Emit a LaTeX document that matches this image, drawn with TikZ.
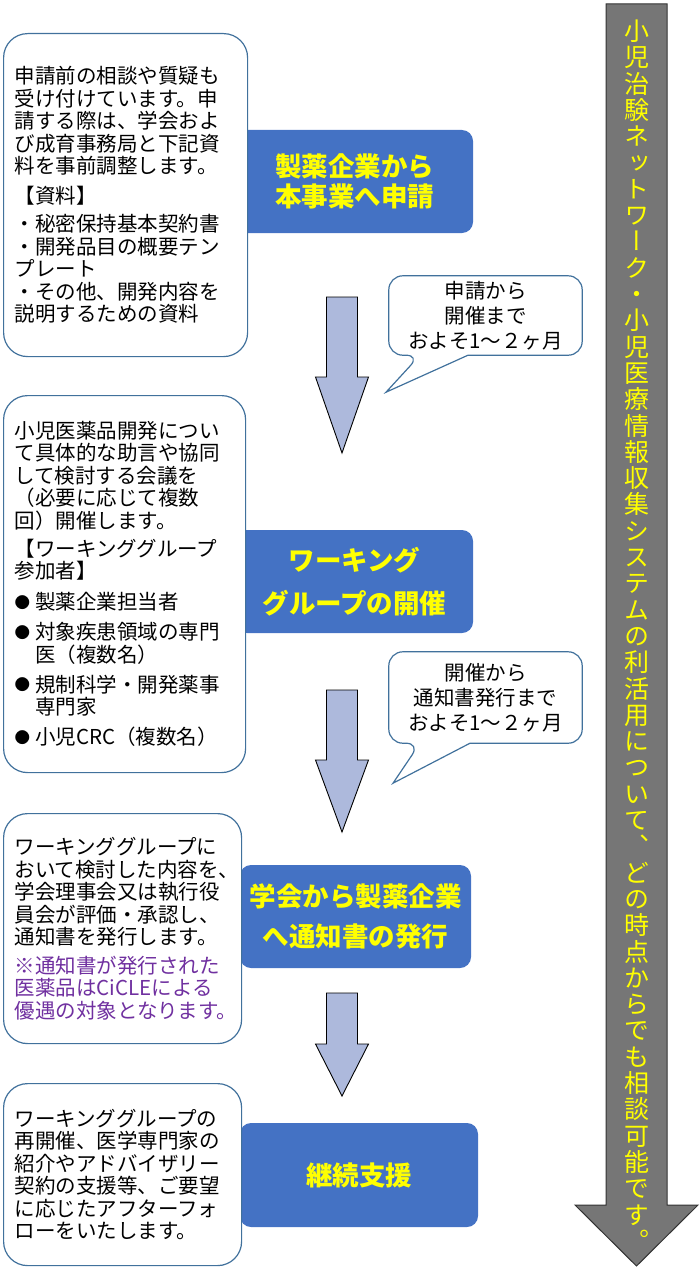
\documentclass[tikz,border=0pt]{standalone}
\usepackage{fontspec}
\setmainfont{Noto Sans CJK JP}
\newfontfamily\vfont[RawFeature=+vert]{Noto Sans CJK JP}
\usetikzlibrary{calc}
\definecolor{stageblue}{HTML}{4472C4}
\definecolor{stageyellow}{HTML}{FFFF00}
\definecolor{boxline}{HTML}{41719C}
\definecolor{notepurple}{HTML}{7030A0}
\definecolor{arrowfill}{HTML}{ADB9DC}
\definecolor{sidegray}{HTML}{767676}
\newcommand\dotmark{\makebox[1em][l]{\raisebox{1.8pt}{\fontsize{15.5}{15.5}\selectfont●}}}

\begin{document}
\begin{tikzpicture}[x=1pt,y=-1pt,
	stage/.style={fill=stageblue, rounded corners=11pt, text=stageyellow, font=\bfseries\fontsize{26.5}{30}\selectfont, align=center, inner sep=0pt},
	infobox/.style={draw=boxline, line width=1.2pt, fill=white, rounded corners=24pt, anchor=north west, align=left, inner xsep=11pt, inner ysep=0pt, font=\fontsize{20.5}{22.5}\selectfont},
	memo/.style={align=center, inner sep=0pt, font=\fontsize{20.5}{25}\selectfont},
	memoline/.style={draw=boxline, line width=1.2pt},
	blockarr/.style={draw=black, line width=0.9pt, fill=arrowfill},
	sidearr/.style={draw=black!80, line width=1pt, fill=sidegray},
	vchar/.style={inner sep=0pt, text=stageyellow, font=\vfont\fontsize{25}{25}\selectfont, text height=22pt, text depth=3pt}]
	\useasboundingbox (0,0) rectangle (700,1271);

	\node[stage, minimum width=237pt, minimum height=103pt] (s1) at (354.5,181.5) {製薬企業から\\本事業へ申請};
	\node[stage, minimum width=237pt, minimum height=103pt] (s2) at (354.5,581.5) {ワーキング\\[13pt]グループの開催};
	\node[stage, minimum width=231pt, minimum height=103pt] (s3) at (355.5,916.5) {学会から製薬企業\\[10pt]へ通知書の発行};
	\node[stage, minimum width=238pt, minimum height=104pt] (s4) at (359,1175) {継続支援};

	\node[infobox, text width=222pt, minimum height=323pt] (b1) at (3,33) {申請前の相談や質疑も\\受け付けています。申\\請する際は、学会およ\\び成育事務局と下記資\\料を事前調整します。\\[7.5pt]【資料】\\[5.5pt]・秘密保持基本契約書\\・開発品目の概要テン\\プレート\\・その他、開発内容を\\説明するための資料};
	\node[infobox, text width=220pt, minimum height=377pt] (b2) at (3,395) {小児医薬品開発につい\\て具体的な助言や協同\\して検討する会議を\\（必要に応じて複数\\回）開催します。\\[5.5pt]【ワーキンググループ\\参加者】\\[8.5pt]\dotmark 製薬企業担当者\\[7.5pt]\dotmark 対象疾患領域の専門\\\hspace*{1em}医（複数名）\\[7.5pt]\dotmark 規制科学・開発薬事\\\hspace*{1em}専門家\\[7.5pt]\dotmark 小児CRC（複数名）};
	\node[infobox, text width=216pt, minimum height=230pt] (b3) at (3,813) {ワーキンググループに\\おいて検討した内容を、\\学会理事会又は執行役\\員会が評価・承認し、\\通知書を発行します。\\[6pt]\textcolor{notepurple}{※通知書が発行された}\\\textcolor{notepurple}{医薬品はCiCLEによる}\\\textcolor{notepurple}{優遇の対象となります。}};
	\node[infobox, text width=216pt, minimum height=182pt] (b4) at (3,1083) {ワーキンググループの\\再開催、医学専門家の\\紹介やアドバイザリー\\契約の支援等、ご要望\\に応じたアフターフォ\\ローをいたします。};

	\node[memo, minimum width=193pt, minimum height=79pt] (c1) at (485.5,315.5) {申請から\\開催まで\\およそ1～２ヶ月};
	\draw[memoline] ($(c1.south)+(-17.5,0)$) [rounded corners=14pt] -- (c1.south east) -- (c1.north east) -- (c1.north west) -- (c1.south west) -- ($(c1.south)+(-65.5,0)$) [sharp corners] -- ($(c1.south)+(-99.5,37)$) -- cycle;
	\node[memo, minimum width=193pt, minimum height=91pt] (c2) at (485.5,697.5) {開催から\\通知書発行まで\\およそ1～２ヶ月};
	\draw[memoline] ($(c2.south)+(-15.5,0)$) [rounded corners=14pt] -- (c2.south east) -- (c2.north east) -- (c2.north west) -- (c2.south west) -- ($(c2.south)+(-65.5,0)$) [sharp corners] -- ($(c2.south)+(-92.5,40)$) -- cycle;

	\foreach \t/\n/\e in {297/377/453,690/760/832,993/1044/1096}
		\draw[blockarr] (326.5,\t) -- (357.5,\t) -- (357.5,\n) -- (368.5,\n) -- (342,\e) -- (315.5,\n) -- (326.5,\n) -- cycle;

	\draw[sidearr] (606,4) -- (667,4) -- (667,1205) -- (698,1205) -- (636.5,1266) -- (575,1205) -- (606,1205) -- cycle;
	\foreach \ch [count=\i from 0] in {小,児,治,験,ネ,ッ,ト,ワ,ー,ク,・,小,児,医,療,情,報,収,集,シ,ス,テ,ム,の,利,活,用,に,つ,い,て,、,ど,の,時,点,か,ら,で,も,相,談,可,能,で,す,。}
		\node[vchar] (v\i) at (636.5,31+26.3*\i) {\ch};
\end{tikzpicture}
\end{document}
